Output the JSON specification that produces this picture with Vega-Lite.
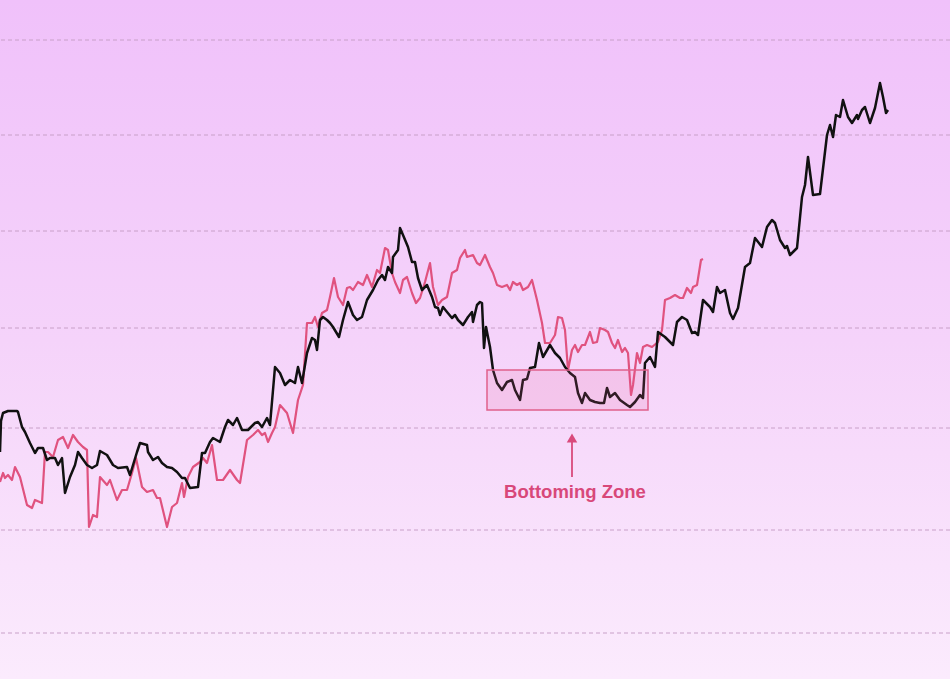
{
  "$schema": "https://vega.github.io/schema/vega-lite/v6.json",
  "width": 950,
  "height": 679,
  "padding": 0,
  "autosize": {"type": "fit", "contains": "padding"},
  "background": "#f5d3fa",
  "config": {"view": {"stroke": null}},
  "datasets": {
    "bg": [{"x": 0, "x2": 950, "y": -46, "y2": 633}],
    "grid": [{"v": 0}, {"v": 103}, {"v": 205}, {"v": 305}, {"v": 402}, {"v": 498}, {"v": 593}],
    "zone": [{"x": 487, "x2": 648, "y": 223, "y2": 263, "label": "Bottoming Zone", "ax": 572, "ay": 156, "ay2": 191, "tip": 195, "tx": 575, "ty": 141}],
    "black": [
      {"t":0,"v":181},{"t":1,"v":212},{"t":3,"v":220},{"t":8,"v":222},{"t":17,"v":222},{"t":18,"v":221},{"t":22,"v":206},{"t":25,"v":201},{"t":30,"v":190},{"t":35,"v":180},{"t":38,"v":185},{"t":43,"v":185},{"t":47,"v":173},{"t":50,"v":175},{"t":55,"v":175},{"t":58,"v":168},{"t":62,"v":175},{"t":65,"v":140},{"t":70,"v":156},{"t":75,"v":168},{"t":78,"v":181},{"t":82,"v":175},{"t":87,"v":168},{"t":92,"v":165},{"t":97,"v":168},{"t":100,"v":182},{"t":107,"v":178},{"t":113,"v":168},{"t":118,"v":165},{"t":127,"v":166},{"t":130,"v":158},{"t":137,"v":181},{"t":140,"v":190},{"t":147,"v":188},{"t":148,"v":181},{"t":153,"v":173},{"t":158,"v":176},{"t":162,"v":170},{"t":167,"v":166},{"t":172,"v":165},{"t":177,"v":161},{"t":182,"v":155},{"t":185,"v":155},{"t":190,"v":145},{"t":198,"v":146},{"t":202,"v":180},{"t":205,"v":180},{"t":210,"v":191},{"t":213,"v":195},{"t":220,"v":191},{"t":225,"v":206},{"t":228,"v":213},{"t":233,"v":208},{"t":237,"v":215},{"t":242,"v":203},{"t":248,"v":203},{"t":255,"v":210},{"t":258,"v":211},{"t":262,"v":206},{"t":267,"v":215},{"t":270,"v":208},{"t":275,"v":266},{"t":280,"v":260},{"t":285,"v":248},{"t":290,"v":253},{"t":295,"v":250},{"t":298,"v":266},{"t":302,"v":250},{"t":307,"v":280},{"t":312,"v":295},{"t":315,"v":293},{"t":317,"v":283},{"t":320,"v":313},{"t":323,"v":316},{"t":327,"v":313},{"t":330,"v":310},{"t":333,"v":306},{"t":339,"v":296},{"t":343,"v":313},{"t":348,"v":331},{"t":353,"v":318},{"t":357,"v":313},{"t":362,"v":316},{"t":367,"v":333},{"t":373,"v":343},{"t":378,"v":353},{"t":382,"v":358},{"t":385,"v":353},{"t":388,"v":366},{"t":392,"v":360},{"t":393,"v":376},{"t":398,"v":383},{"t":400,"v":405},{"t":403,"v":398},{"t":408,"v":386},{"t":412,"v":371},{"t":415,"v":371},{"t":418,"v":355},{"t":422,"v":343},{"t":427,"v":348},{"t":432,"v":336},{"t":435,"v":326},{"t":438,"v":325},{"t":440,"v":318},{"t":443,"v":326},{"t":447,"v":321},{"t":452,"v":315},{"t":455,"v":318},{"t":458,"v":313},{"t":463,"v":308},{"t":468,"v":316},{"t":472,"v":321},{"t":473,"v":311},{"t":477,"v":328},{"t":480,"v":331},{"t":482,"v":330},{"t":484,"v":285},{"t":486,"v":306},{"t":488,"v":296},{"t":490,"v":286},{"t":493,"v":263},{"t":497,"v":250},{"t":502,"v":243},{"t":507,"v":251},{"t":512,"v":253},{"t":515,"v":243},{"t":520,"v":233},{"t":523,"v":253},{"t":527,"v":254},{"t":530,"v":265},{"t":535,"v":266},{"t":539,"v":290},{"t":543,"v":276},{"t":550,"v":288},{"t":555,"v":280},{"t":560,"v":275},{"t":565,"v":266},{"t":570,"v":260},{"t":575,"v":256},{"t":578,"v":240},{"t":582,"v":230},{"t":585,"v":240},{"t":590,"v":233},{"t":595,"v":231},{"t":600,"v":230},{"t":604,"v":230},{"t":607,"v":245},{"t":610,"v":236},{"t":615,"v":240},{"t":620,"v":233},{"t":627,"v":228},{"t":630,"v":226},{"t":635,"v":231},{"t":640,"v":238},{"t":643,"v":235},{"t":645,"v":270},{"t":650,"v":276},{"t":655,"v":266},{"t":658,"v":301},{"t":665,"v":296},{"t":673,"v":288},{"t":677,"v":311},{"t":682,"v":316},{"t":687,"v":313},{"t":692,"v":300},{"t":695,"v":301},{"t":698,"v":298},{"t":703,"v":333},{"t":710,"v":326},{"t":713,"v":321},{"t":717,"v":346},{"t":720,"v":340},{"t":725,"v":343},{"t":730,"v":320},{"t":733,"v":314},{"t":738,"v":325},{"t":745,"v":366},{"t":750,"v":370},{"t":755,"v":395},{"t":762,"v":386},{"t":767,"v":406},{"t":772,"v":413},{"t":775,"v":410},{"t":780,"v":393},{"t":785,"v":385},{"t":787,"v":387},{"t":790,"v":378},{"t":793,"v":381},{"t":797,"v":385},{"t":802,"v":436},{"t":805,"v":448},{"t":808,"v":476},{"t":813,"v":438},{"t":820,"v":439},{"t":827,"v":498},{"t":830,"v":508},{"t":833,"v":496},{"t":836,"v":518},{"t":840,"v":516},{"t":843,"v":533},{"t":848,"v":516},{"t":852,"v":510},{"t":857,"v":518},{"t":858,"v":514},{"t":862,"v":523},{"t":865,"v":526},{"t":870,"v":510},{"t":875,"v":525},{"t":880,"v":550},{"t":883,"v":536},{"t":886,"v":520},{"t":888,"v":523}
    ],
    "pink": [
      {"t":0,"v":151},{"t":3,"v":160},{"t":5,"v":155},{"t":8,"v":158},{"t":12,"v":153},{"t":15,"v":166},{"t":20,"v":156},{"t":27,"v":128},{"t":32,"v":125},{"t":35,"v":133},{"t":42,"v":130},{"t":45,"v":181},{"t":48,"v":181},{"t":53,"v":176},{"t":58,"v":193},{"t":63,"v":196},{"t":68,"v":185},{"t":73,"v":198},{"t":78,"v":191},{"t":83,"v":186},{"t":87,"v":183},{"t":89,"v":106},{"t":93,"v":118},{"t":97,"v":116},{"t":100,"v":156},{"t":107,"v":148},{"t":110,"v":153},{"t":117,"v":133},{"t":122,"v":143},{"t":127,"v":143},{"t":132,"v":160},{"t":136,"v":175},{"t":142,"v":146},{"t":147,"v":141},{"t":153,"v":143},{"t":157,"v":135},{"t":160,"v":135},{"t":167,"v":106},{"t":172,"v":126},{"t":177,"v":130},{"t":182,"v":150},{"t":184,"v":136},{"t":188,"v":156},{"t":193,"v":166},{"t":200,"v":171},{"t":203,"v":175},{"t":207,"v":170},{"t":212,"v":188},{"t":217,"v":153},{"t":223,"v":153},{"t":230,"v":163},{"t":237,"v":153},{"t":240,"v":150},{"t":247,"v":193},{"t":253,"v":198},{"t":258,"v":203},{"t":262,"v":198},{"t":265,"v":200},{"t":268,"v":191},{"t":272,"v":200},{"t":275,"v":206},{"t":280,"v":228},{"t":287,"v":220},{"t":293,"v":200},{"t":298,"v":233},{"t":303,"v":248},{"t":307,"v":310},{"t":312,"v":310},{"t":315,"v":316},{"t":318,"v":306},{"t":322,"v":320},{"t":327,"v":323},{"t":330,"v":336},{"t":334,"v":355},{"t":338,"v":336},{"t":343,"v":328},{"t":347,"v":345},{"t":350,"v":346},{"t":353,"v":343},{"t":358,"v":351},{"t":363,"v":348},{"t":367,"v":358},{"t":372,"v":346},{"t":377,"v":363},{"t":380,"v":360},{"t":385,"v":385},{"t":388,"v":383},{"t":392,"v":360},{"t":395,"v":351},{"t":400,"v":340},{"t":403,"v":353},{"t":407,"v":356},{"t":412,"v":340},{"t":416,"v":330},{"t":420,"v":335},{"t":425,"v":351},{"t":430,"v":370},{"t":433,"v":346},{"t":438,"v":328},{"t":442,"v":333},{"t":447,"v":336},{"t":452,"v":360},{"t":457,"v":363},{"t":460,"v":375},{"t":465,"v":383},{"t":467,"v":376},{"t":473,"v":378},{"t":477,"v":370},{"t":480,"v":368},{"t":485,"v":378},{"t":490,"v":366},{"t":493,"v":360},{"t":497,"v":348},{"t":502,"v":346},{"t":507,"v":348},{"t":510,"v":343},{"t":513,"v":351},{"t":517,"v":348},{"t":520,"v":350},{"t":523,"v":343},{"t":528,"v":346},{"t":532,"v":353},{"t":537,"v":333},{"t":542,"v":310},{"t":545,"v":290},{"t":550,"v":290},{"t":555,"v":298},{"t":558,"v":316},{"t":562,"v":315},{"t":565,"v":303},{"t":568,"v":263},{"t":572,"v":283},{"t":575,"v":288},{"t":578,"v":281},{"t":582,"v":288},{"t":585,"v":288},{"t":590,"v":301},{"t":593,"v":290},{"t":597,"v":291},{"t":600,"v":305},{"t":605,"v":303},{"t":608,"v":301},{"t":612,"v":290},{"t":615,"v":285},{"t":618,"v":293},{"t":622,"v":281},{"t":625,"v":285},{"t":628,"v":280},{"t":631,"v":238},{"t":633,"v":248},{"t":637,"v":280},{"t":640,"v":270},{"t":643,"v":286},{"t":647,"v":288},{"t":652,"v":286},{"t":658,"v":291},{"t":662,"v":303},{"t":665,"v":333},{"t":670,"v":335},{"t":675,"v":338},{"t":680,"v":335},{"t":683,"v":335},{"t":687,"v":345},{"t":691,"v":340},{"t":693,"v":346},{"t":697,"v":348},{"t":701,"v":373},{"t":703,"v":374}
    ]
  },
  "layer": [
    {
      "data": {"name": "bg"},
      "mark": {"type": "rect", "clip": true, "color": {"gradient": "linear", "x1": 0, "y1": 0, "x2": 0, "y2": 1, "stops": [{"offset": 0, "color": "#f0c1fa"}, {"offset": 0.5, "color": "#f5d3fa"}, {"offset": 1, "color": "#fbebfd"}]}},
      "encoding": {
        "x": {"field": "x", "type": "quantitative", "scale": {"domain": [0, 950], "nice": false, "zero": false}, "axis": null},
        "x2": {"field": "x2"},
        "y": {"field": "y", "type": "quantitative", "scale": {"domain": [-46, 633], "nice": false, "zero": false}, "axis": null},
        "y2": {"field": "y2"}
      }
    },
    {
      "data": {"name": "grid"},
      "mark": {"type": "rule", "clip": true, "color": "#c8a0c8", "strokeWidth": 1, "strokeDash": [4, 3]},
      "encoding": {
        "y": {"field": "v", "type": "quantitative", "scale": {"domain": [-46, 633], "nice": false, "zero": false}, "axis": null}
      }
    },
    {
      "data": {"name": "pink"},
      "mark": {"type": "line", "color": "#e0527f", "strokeWidth": 2.2, "strokeJoin": "round", "clip": true},
      "encoding": {
        "x": {"field": "t", "type": "quantitative", "scale": {"domain": [0, 950], "nice": false, "zero": false}, "axis": null},
        "y": {"field": "v", "type": "quantitative", "scale": {"domain": [-46, 633], "nice": false, "zero": false}, "axis": null}
      }
    },
    {
      "data": {"name": "black"},
      "mark": {"type": "line", "color": "#111111", "strokeWidth": 2.5, "strokeJoin": "round", "clip": true},
      "encoding": {
        "x": {"field": "t", "type": "quantitative", "scale": {"domain": [0, 950], "nice": false, "zero": false}, "axis": null},
        "y": {"field": "v", "type": "quantitative", "scale": {"domain": [-46, 633], "nice": false, "zero": false}, "axis": null}
      }
    },
    {
      "data": {"name": "zone"},
      "mark": {"type": "rect", "fill": "#e8609a", "fillOpacity": 0.15, "stroke": "#e0608c", "strokeWidth": 1.5},
      "encoding": {
        "x": {"field": "x", "type": "quantitative", "scale": {"domain": [0, 950], "nice": false, "zero": false}, "axis": null},
        "x2": {"field": "x2"},
        "y": {"field": "y", "type": "quantitative", "scale": {"domain": [-46, 633], "nice": false, "zero": false}, "axis": null},
        "y2": {"field": "y2"}
      }
    },
    {
      "data": {"name": "zone"},
      "mark": {"type": "rule", "color": "#d94a7c", "strokeWidth": 1.8},
      "encoding": {
        "x": {"field": "ax", "type": "quantitative", "scale": {"domain": [0, 950], "nice": false, "zero": false}, "axis": null},
        "y": {"field": "ay", "type": "quantitative", "scale": {"domain": [-46, 633], "nice": false, "zero": false}, "axis": null},
        "y2": {"field": "ay2"}
      }
    },
    {
      "data": {"name": "zone"},
      "mark": {"type": "point", "shape": "triangle-up", "filled": true, "color": "#d94a7c", "size": 110, "opacity": 1},
      "encoding": {
        "x": {"field": "ax", "type": "quantitative", "scale": {"domain": [0, 950], "nice": false, "zero": false}, "axis": null},
        "y": {"field": "tip", "type": "quantitative", "scale": {"domain": [-46, 633], "nice": false, "zero": false}, "axis": null}
      }
    },
    {
      "data": {"name": "zone"},
      "mark": {"type": "text", "color": "#d8487a", "font": "Liberation Sans", "fontWeight": "bold", "fontSize": 18.5, "align": "center", "baseline": "middle"},
      "encoding": {
        "x": {"field": "tx", "type": "quantitative", "scale": {"domain": [0, 950], "nice": false, "zero": false}, "axis": null},
        "y": {"field": "ty", "type": "quantitative", "scale": {"domain": [-46, 633], "nice": false, "zero": false}, "axis": null},
        "text": {"field": "label"}
      }
    }
  ]
}
